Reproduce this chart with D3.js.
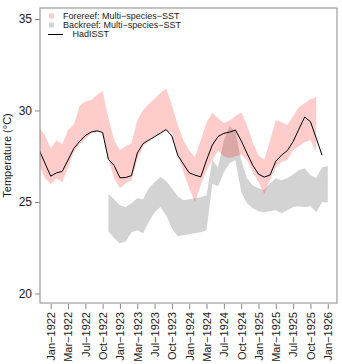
<!DOCTYPE html>
<html>
<head>
<meta charset="utf-8">
<script src="https://cdn.jsdelivr.net/npm/d3@7"></script>
<style>
  body { margin: 0; background: #fff; }
  text { font-family: "Liberation Sans", Arial, sans-serif; }
</style>
</head>
<body>
<div id="chart-area"></div>
<script>
// month index 0 = Jan-1922
var tickMonths = [0, 3, 6, 9, 12, 15, 18, 21, 24, 27, 30, 33, 36, 39, 42, 45, 48];
var tickLabels = ["Jan−1922", "Mar−1922", "Jul−1922", "Oct−1922",
	"Jan−1923", "Mar−1923", "Jul−1923", "Oct−1923",
	"Jan−1924", "Mar−1924", "Jul−1924", "Oct−1924",
	"Jan−1925", "Mar−1925", "Jul−1925", "Oct−1925", "Jan−1926"];
var yTicks = [20, 25, 30, 35];

// HadISST, months -2 .. 47
var hadStart = -2;
var hadisst = [27.84, 27.13, 26.41, 26.59, 26.67, 27.29, 27.92, 28.30, 28.63, 28.82,
	28.89, 28.80, 27.33, 26.99, 26.32, 26.34, 26.44, 27.67, 28.19, 28.38,
	28.57, 28.76, 28.96, 28.60, 27.56, 27.07, 26.59, 26.47, 26.37, 27.29,
	28.11, 28.58, 28.75, 28.82, 28.93, 28.35, 27.67, 27.01, 26.52, 26.36,
	26.47, 27.23, 27.56, 27.81, 28.30, 28.98, 29.64, 29.39, 28.49, 27.56];

// Forereef multi-species SST range, months -2 .. 46
var foreStart = -2;
var foreHigh = [29.09, 28.65, 27.94, 28.38, 28.16, 28.93, 29.23, 30.24, 30.51, 30.57,
	30.84, 31.06, 29.58, 28.38, 27.83, 28.05, 28.22, 29.47, 30.02, 30.35,
	30.65, 30.95, 31.20, 30.30, 29.20, 28.38, 27.83, 27.45, 28.38, 29.36,
	29.86, 29.58, 29.31, 29.47, 29.69, 29.91, 29.20, 28.27, 27.56, 27.29,
	28.38, 29.47, 29.36, 29.20, 29.69, 30.19, 30.40, 30.62, 30.73];
var foreLow = [27.01, 26.30, 25.97, 26.30, 26.08, 26.85, 27.72, 28.16, 28.43, 28.75,
	28.85, 28.85, 27.29, 26.30, 25.75, 26.03, 26.19, 27.29, 28.05, 28.33,
	28.54, 28.71, 28.93, 28.76, 27.56, 26.63, 25.75, 24.99, 25.92, 26.74,
	27.29, 27.80, 27.50, 27.40, 27.50, 27.60, 27.29, 26.63, 26.08, 25.43,
	26.19, 26.90, 27.18, 27.29, 27.83, 28.05, 28.27, 28.38, 27.72];

// Backreef multi-species SST range, months 10 .. 48
var backStart = 10;
var backHigh = [25.43, 25.15, 24.82, 24.72, 24.93, 25.21, 25.15, 25.75, 26.08, 26.36,
	26.14, 25.75, 25.32, 25.10, 25.15, 25.21, 25.26, 25.37, 27.29, 26.88,
	28.38, 29.15, 28.82, 27.29, 26.30, 25.92, 25.75, 25.65, 26.03, 26.30,
	26.19, 26.30, 26.52, 26.74, 26.85, 26.47, 26.30, 26.90, 26.96];
var backLow = [23.40, 23.02, 22.75, 22.86, 23.35, 23.46, 23.29, 23.90, 24.44, 24.72,
	24.28, 23.57, 23.13, 23.18, 23.24, 23.29, 23.35, 23.46, 26.00, 25.86,
	26.63, 27.12, 27.29, 25.54, 24.93, 24.66, 24.50, 24.44, 24.50, 24.55,
	24.39, 24.55, 24.72, 24.77, 24.72, 24.77, 24.44, 24.99, 24.99];

var legendNames = ["Forereef: Multi−species−SST", "Backreef: Multi−species−SST", "HadISST"];

var pink = "rgba(255,0,0,0.2)";
var grey = "#d3d3d3";
var axisCol = "#888";

var W = 342, H = 364;
var plot = {left: 40, right: 337, top: 8, bottom: 303};

var svg = d3.select("#chart-area").append("svg")
	.attr("width", W)
	.attr("height", H);

var x = d3.scaleLinear().domain([-1.85, 49.6]).range([plot.left, plot.right]);
var y = d3.scaleLinear().domain([19.48, 35.6]).range([plot.bottom, plot.top]);

svg.append("clipPath").attr("id", "clip")
	.append("rect")
		.attr("x", plot.left).attr("y", plot.top)
		.attr("width", plot.right - plot.left)
		.attr("height", plot.bottom - plot.top);

var g = svg.append("g").attr("clip-path", "url(#clip)");

function bandRows(start, hi, lo) {
	return hi.map((v, i) => ({m: start + i, hi: v, lo: lo[i]}));
}

var area = d3.area()
	.x((d) => x(d.m))
	.y0((d) => y(d.lo))
	.y1((d) => y(d.hi));

g.append("path")
	.datum(bandRows(backStart, backHigh, backLow))
	.attr("d", area)
	.attr("fill", grey);

g.append("path")
	.datum(bandRows(foreStart, foreHigh, foreLow))
	.attr("d", area)
	.attr("fill", pink);

var line = d3.line()
	.x((d, i) => x(hadStart + i))
	.y((d) => y(d));

g.append("path")
	.datum(hadisst)
	.attr("d", line)
	.attr("fill", "none")
	.attr("stroke", "#000")
	.attr("stroke-width", 1);

// box
svg.append("rect")
	.attr("x", plot.left).attr("y", plot.top)
	.attr("width", plot.right - plot.left)
	.attr("height", plot.bottom - plot.top)
	.attr("fill", "none")
	.attr("stroke", axisCol)
	.attr("stroke-width", 1);

// axes
var yAxis = d3.axisLeft(y).tickValues(yTicks).tickSize(5).tickPadding(3);
var yg = svg.append("g")
	.attr("transform", "translate(" + plot.left + ",0)")
	.call(yAxis);
yg.select(".domain").remove();
yg.selectAll("line").attr("stroke", axisCol);
yg.selectAll("text")
	.attr("font-size", "12px")
	.attr("fill", "#1a1a1a")
	.style("font-family", "'Liberation Sans', Arial, sans-serif");

var xAxis = d3.axisBottom(x)
	.tickValues(tickMonths)
	.tickFormat((d, i) => tickLabels[i])
	.tickSize(5);
var xg = svg.append("g")
	.attr("transform", "translate(0," + (plot.bottom + 1) + ")")
	.call(xAxis);
xg.select(".domain").remove();
xg.selectAll("line").attr("stroke", axisCol);
xg.selectAll("text")
	.attr("font-size", "11px")
	.attr("fill", "#1a1a1a")
	.style("font-family", "'Liberation Sans', Arial, sans-serif")
	.attr("text-anchor", "end")
	.attr("transform", "rotate(-90)")
	.attr("x", -8)
	.attr("y", 0)
	.attr("dy", "0.35em");

svg.append("text")
	.attr("transform", "translate(11," + ((plot.top + plot.bottom) / 2) + ") rotate(-90)")
	.attr("text-anchor", "middle")
	.attr("font-size", "11px")
	.attr("fill", "#1a1a1a")
	.text("Temperature (°C)");

// legend
var lg = svg.append("g");
lg.append("rect").attr("x", 49).attr("y", 13.5).attr("width", 5).attr("height", 5).attr("fill", pink);
lg.append("rect").attr("x", 49).attr("y", 22.5).attr("width", 5).attr("height", 5).attr("fill", grey);
lg.append("line").attr("x1", 48).attr("x2", 63).attr("y1", 34.5).attr("y2", 34.5)
	.attr("stroke", "#000").attr("stroke-width", 1);
lg.selectAll("text.leg").data(legendNames).enter()
	.append("text")
		.attr("class", "leg")
		.attr("x", (d, i) => i < 2 ? 63 : 72.5)
		.attr("y", (d, i) => 19 + i * 9)
		.attr("font-size", "9px")
		.attr("fill", "#1a1a1a")
		.text((d) => d);
</script>
</body>
</html>
